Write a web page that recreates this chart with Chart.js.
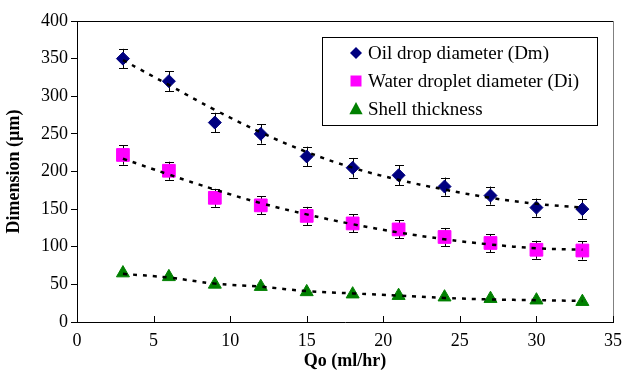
<!DOCTYPE html>
<html>
<head>
<meta charset="utf-8">
<script src="https://cdn.jsdelivr.net/npm/chart.js@4.4.0/dist/chart.umd.min.js"></script>
<style>
  html, body { margin: 0; padding: 0; background: #fff; }
  body { font-size: 18px; }
  .warm { position: absolute; left: 0; top: 0; color: transparent; font-family: 'Liberation Serif'; pointer-events: none; }
</style>
</head>
<body>
<canvas id="myChart" width="624" height="376"></canvas>
<div class="warm">Dimension <b>Qo (ml/hr)</b></div>
<script>
const flowRates = [3, 6, 9, 12, 15, 18, 21, 24, 27, 30, 33];

const oilDrop = [350, 320, 265, 250, 220, 205, 195, 180, 168, 152, 150];
const oilDropErr = [13, 13, 13, 13, 13, 13, 13, 12, 12, 12, 13];
const oilDropTrend = [348, 315, 282, 252, 226, 205, 189, 176, 165, 157, 152];

const waterDrop = [222, 201, 165, 155, 141, 131, 123, 113, 105, 96, 95];
const waterDropErr = [13, 12, 12, 12, 12, 12, 12, 12, 12, 12, 12];
const waterDropTrend = [217, 196, 176, 158, 143, 130, 119, 110, 103, 98, 96];

const shell = [65, 60, 50, 47, 40, 37, 35, 33, 31, 29, 27];
const shellTrend = [64, 59, 51, 47, 41, 38, 35, 32, 30, 29, 28];

const legendLabels = ["Oil drop diameter (Dm)", "Water droplet diameter (Di)", "Shell thickness"];

const fontFamily = "'Liberation Serif'";
Chart.defaults.font.family = fontFamily;
Chart.defaults.font.size = 18;
Chart.defaults.color = "#000";

const toPoints = (vals) => vals.map((v, i) => ({ x: flowRates[i], y: v }));

function markerSet(label, vals, errs, color, style, radius) {
  return {
    label: label,
    data: toPoints(vals),
    errors: errs,
    showLine: false,
    pointStyle: style,
    pointRadius: radius,
    pointHoverRadius: radius,
    backgroundColor: color,
    borderColor: color,
    borderWidth: 1,
    order: 1,
  };
}

function trendSet(vals) {
  return {
    data: toPoints(vals),
    showLine: true,
    pointRadius: 0,
    borderColor: "#000",
    borderWidth: 2.5,
    borderDash: [4, 6],
    tension: 0.4,
    fill: false,
    order: 0,
  };
}

const errorBars = {
  id: "errorBars",
  beforeDatasetsDraw(chart) {
    const ctx = chart.ctx;
    const xs = chart.scales.x, ys = chart.scales.y;
    ctx.save();
    ctx.strokeStyle = "#000";
    ctx.lineWidth = 1;
    chart.data.datasets.forEach((ds) => {
      if (!ds.errors) return;
      ds.data.forEach((p, i) => {
        const e = ds.errors[i];
        if (!e) return;
        const px = Math.round(xs.getPixelForValue(p.x)) + 0.5;
        const top = ys.getPixelForValue(p.y + e);
        const bot = ys.getPixelForValue(p.y - e);
        ctx.beginPath();
        ctx.moveTo(px, top); ctx.lineTo(px, bot);
        ctx.moveTo(px - 4.5, Math.round(top) + 0.5); ctx.lineTo(px + 4.5, Math.round(top) + 0.5);
        ctx.moveTo(px - 4.5, Math.round(bot) + 0.5); ctx.lineTo(px + 4.5, Math.round(bot) + 0.5);
        ctx.stroke();
      });
    });
    ctx.restore();
  }
};

function drawMarker(ctx, style, x, y, r, color) {
  ctx.fillStyle = color;
  ctx.beginPath();
  if (style === "rectRot") {
    ctx.moveTo(x - r, y); ctx.lineTo(x, y - r); ctx.lineTo(x + r, y); ctx.lineTo(x, y + r);
  } else if (style === "rect") {
    ctx.rect(x - r, y - r, 2 * r, 2 * r);
  } else {
    ctx.moveTo(x, y - r); ctx.lineTo(x + r * 0.95, y + r * 0.75); ctx.lineTo(x - r * 0.95, y + r * 0.75);
  }
  ctx.closePath();
  ctx.fill();
}

const frameAndLegend = {
  id: "frameAndLegend",
  afterDraw(chart) {
    const ctx = chart.ctx;
    const a = chart.chartArea;
    const xs = chart.scales.x;
    ctx.save();
    // top and right border of plot area
    ctx.lineWidth = 1;
    ctx.strokeStyle = "#000";
    ctx.beginPath();
    ctx.moveTo(a.left, Math.round(a.top) + 0.5);
    ctx.lineTo(a.right, Math.round(a.top) + 0.5);
    ctx.stroke();
    ctx.strokeStyle = "#808080";
    ctx.beginPath();
    ctx.moveTo(Math.round(a.right) + 0.5, a.top);
    ctx.lineTo(Math.round(a.right) + 0.5, a.bottom);
    ctx.stroke();
    // inward x ticks
    ctx.strokeStyle = "#000";
    ctx.beginPath();
    xs.ticks.forEach((t) => {
      const px = Math.round(xs.getPixelForValue(t.value)) + 0.5;
      ctx.moveTo(px, a.bottom);
      ctx.lineTo(px, a.bottom - 6);
    });
    ctx.stroke();

    // legend box
    const bx = 322.5, by = 37.5, bw = 275, bh = 88;
    ctx.fillStyle = "#fff";
    ctx.fillRect(bx, by, bw, bh);
    ctx.strokeStyle = "#000";
    ctx.strokeRect(bx, by, bw, bh);
    const markers = chart.data.datasets.filter((d) => d.errors !== undefined);
    const rowY = [53, 81, 109];
    const sizes = [6, 5.5, 7];
    ctx.font = "19px " + fontFamily;
    ctx.textBaseline = "middle";
    ctx.textAlign = "left";
    markers.forEach((d, i) => {
      drawMarker(ctx, d.pointStyle, 356, rowY[i], sizes[i], d.backgroundColor);
      ctx.fillStyle = "#000";
      ctx.fillText(legendLabels[i], 368, rowY[i] + 1);
    });
    ctx.restore();
  }
};

function drawChart() {
  new Chart(document.getElementById("myChart"), {
    type: "scatter",
    data: {
      datasets: [
        trendSet(oilDropTrend),
        trendSet(waterDropTrend),
        trendSet(shellTrend),
        markerSet(legendLabels[0], oilDrop, oilDropErr, "#000080", "rectRot", 6.5),
        markerSet(legendLabels[1], waterDrop, waterDropErr, "#FF00FF", "rect", 9),
        markerSet(legendLabels[2], shell, null, "#008000", "triangle", 7.5),
      ],
    },
    options: {
      responsive: false,
      animation: false,
      layout: { padding: { top: 21, right: 11, left: 0, bottom: 0 } },
      plugins: {
        legend: { display: false },
        tooltip: { enabled: false },
      },
      scales: {
        x: {
          type: "linear",
          min: 0,
          max: 35,
          ticks: { stepSize: 5, padding: 0 },
          grid: { display: false },
          border: { color: "#000", width: 1 },
          title: {
            display: true,
            text: "Qo (ml/hr)",
            font: { weight: "bold" },
            padding: { top: 2 },
          },
          afterFit(scale) { scale.height = 54; },
        },
        y: {
          min: 0,
          max: 400,
          ticks: { stepSize: 50, padding: 3 },
          grid: { drawOnChartArea: false, drawTicks: true, tickLength: 6, color: "#000" },
          border: { color: "#000", width: 1 },
          title: {
            display: true,
            text: "Dimension (\u00b5m)",
            font: { weight: "bold" },
            padding: { bottom: 0 },
          },
          afterFit(scale) { scale.width = 77; },
        },
      },
    },
    plugins: [errorBars, frameAndLegend],
  });
}

setTimeout(drawChart, 50);
</script>
</body>
</html>
